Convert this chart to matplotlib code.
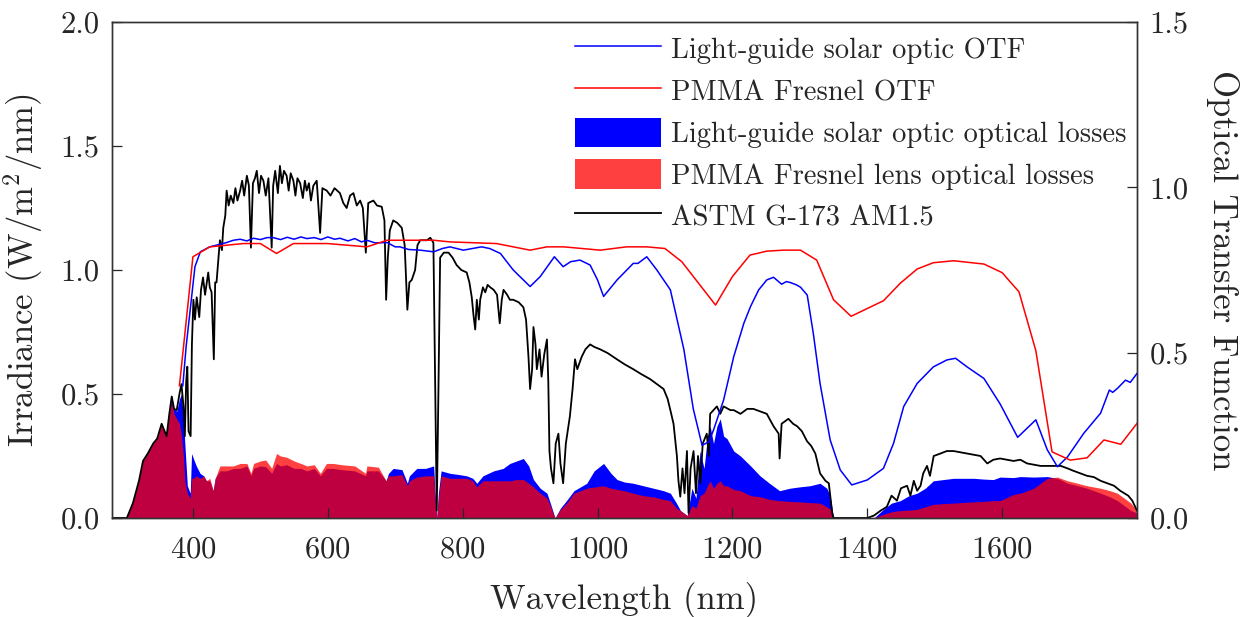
import matplotlib
matplotlib.use("Agg")
import matplotlib.pyplot as plt
from matplotlib.lines import Line2D
from matplotlib.patches import Patch

plt.rcParams['font.family'] = ['cmr10', 'DejaVu Serif']
plt.rcParams['mathtext.fontset'] = 'cm'
plt.rcParams['axes.unicode_minus'] = False
plt.rcParams['axes.formatter.use_mathtext'] = True

# --- ASTM G-173 AM1.5 spectrum (W/m^2/nm) ---
astm_nm = [280, 295, 302, 311, 320, 326, 333, 341, 347, 353.6, 358, 361, 365, 368.6, 372, 376, 380, 383,
           386, 388, 390, 391.7, 393.5, 396.6, 398.5, 400.7, 403, 405.6, 409.4, 412, 415, 418, 422.7, 425,
           427.7, 431, 433, 435, 438, 440, 443, 445, 448, 450, 453, 456, 460, 463, 466, 470, 473, 476, 480,
           483, 486, 489, 492, 494.7, 498, 501, 504.5, 508, 512, 516.8, 519, 522, 526, 529, 532, 535, 539,
           542, 545, 549, 552, 555, 559, 563, 566, 568.7, 572, 575, 578.6, 583.6, 588.6, 592, 598.5, 604,
           610, 618, 623, 628, 633, 638, 643, 648, 652, 656.4, 660, 667.6, 673, 680, 684, 686.5, 689, 692,
           697, 703, 709.7, 714, 718, 721, 724.5, 729.5, 733, 737, 742, 747, 752, 756.6, 759, 761.6, 764,
           766.6, 772, 779, 785, 791, 798, 806, 810, 813.5, 816, 818.6, 821, 824, 826, 830, 833.5, 837, 841,
           846, 851, 855, 858, 860.6, 866, 870, 875, 883, 890, 894, 897.6, 900, 903, 905, 908, 910, 914, 917,
           921, 925, 927, 928.7, 931, 934.6, 938, 942, 945, 949, 953, 959, 963, 966.6, 970, 976.5, 982, 989,
           995, 1004, 1015, 1028.7, 1040, 1053, 1065, 1078, 1088, 1098, 1104, 1108, 1112.7, 1117.7, 1120,
           1122.7, 1126, 1129, 1132.6, 1135, 1138, 1142.4, 1146, 1149, 1152.4, 1156, 1162, 1165, 1167, 1172,
           1177, 1182, 1187, 1197, 1202, 1212, 1222, 1231, 1241, 1251, 1261, 1268.6, 1270, 1273, 1283, 1290,
           1296, 1303, 1310.6, 1317, 1323, 1330, 1338, 1343, 1348, 1350, 1400, 1410, 1420, 1429, 1436, 1444,
           1450, 1459, 1464, 1469, 1474, 1479, 1483, 1488.6, 1493, 1498.5, 1508.5, 1518, 1528, 1538, 1548,
           1558, 1568, 1578, 1587, 1597, 1607, 1617, 1627, 1637, 1647, 1657, 1667, 1677, 1687, 1697, 1706,
           1716, 1726, 1736, 1746, 1756, 1766, 1775, 1781, 1787, 1793, 1800]
astm_irr = [0, 0, 0.0, 0.06, 0.15, 0.23, 0.26, 0.30, 0.32, 0.38, 0.35, 0.33, 0.42, 0.49, 0.44, 0.435, 0.50, 0.54,
            0.45, 0.33, 0.55, 0.61, 0.35, 0.33, 0.70, 0.88, 0.80, 0.89, 0.81, 0.92, 0.97, 0.90, 0.99, 0.93,
            0.91, 0.64, 0.95, 0.95, 1.05, 1.12, 1.08, 1.17, 1.22, 1.32, 1.26, 1.30, 1.27, 1.33, 1.28, 1.32, 1.36,
            1.30, 1.38, 1.34, 1.09, 1.35, 1.37, 1.40, 1.31, 1.38, 1.36, 1.30, 1.37, 1.09, 1.34, 1.40, 1.31,
            1.42, 1.35, 1.40, 1.38, 1.32, 1.39, 1.36, 1.30, 1.37, 1.35, 1.29, 1.36, 1.32, 1.35, 1.28, 1.34,
            1.36, 1.15, 1.33, 1.32, 1.30, 1.33, 1.31, 1.27, 1.25, 1.30, 1.31, 1.26, 1.28, 1.25, 1.07, 1.27,
            1.28, 1.26, 1.255, 1.20, 0.88, 1.05, 1.16, 1.20, 1.19, 1.17, 1.10, 0.84, 0.95, 0.96, 1.00, 1.10,
            1.12, 1.12, 1.12, 1.13, 1.11, 0.60, 0.03, 0.50, 1.05, 1.07, 1.07, 1.05, 1.02, 1.00, 0.99, 0.95,
            0.89, 0.82, 0.76, 0.88, 0.80, 0.88, 0.93, 0.91, 0.94, 0.93, 0.92, 0.90, 0.785, 0.88, 0.92, 0.90,
            0.88, 0.88, 0.87, 0.85, 0.80, 0.65, 0.52, 0.60, 0.77, 0.70, 0.60, 0.68, 0.57, 0.66, 0.72, 0.55,
            0.27, 0.20, 0.14, 0.30, 0.34, 0.22, 0.14, 0.30, 0.41, 0.52, 0.64, 0.60, 0.65, 0.68, 0.70, 0.69,
            0.68, 0.665, 0.64, 0.62, 0.60, 0.58, 0.56, 0.54, 0.52, 0.48, 0.435, 0.38, 0.25, 0.15, 0.086, 0.20,
            0.10, 0.27, 0.02, 0.20, 0.27, 0.10, 0.25, 0.14, 0.30, 0.34, 0.25, 0.42, 0.435, 0.45, 0.42, 0.45,
            0.435, 0.435, 0.42, 0.44, 0.44, 0.43, 0.42, 0.37, 0.34, 0.24, 0.38, 0.40, 0.38, 0.37, 0.35, 0.31,
            0.29, 0.26, 0.18, 0.15, 0.14, 0.02, 0, 0, 0.01, 0.03, 0.045, 0.09, 0.07, 0.12, 0.13, 0.09, 0.15,
            0.11, 0.13, 0.18, 0.21, 0.17, 0.25, 0.26, 0.27, 0.27, 0.265, 0.26, 0.255, 0.25, 0.22, 0.235, 0.24,
            0.235, 0.23, 0.235, 0.22, 0.215, 0.21, 0.21, 0.21, 0.21, 0.20, 0.19, 0.18, 0.17, 0.165, 0.15,
            0.14, 0.13, 0.11, 0.10, 0.09, 0.07, 0.03]

# --- optical losses (W/m^2/nm) ---
loss_nm = [280, 302, 311, 320, 326, 333, 341, 347, 353.6, 358, 361, 365, 368.6, 372, 376, 380, 383, 386, 388,
           391.7, 396, 398, 400.7, 405, 410.6, 416, 420, 425, 430, 433, 440, 450, 460, 470, 480, 486, 490, 500,
           508, 516.8, 524, 530, 539, 550, 560, 569, 580, 589, 598, 608, 620, 640, 656, 658, 675, 686.5, 690,
           697, 710, 718, 721, 732, 745, 757, 759, 761.6, 764, 768, 781.5, 795, 806, 815, 821, 830, 846, 860,
           870, 880, 890, 898, 905, 915, 925, 930, 937, 945, 954, 965, 984, 995, 1009, 1020, 1029, 1040, 1053,
           1068, 1083, 1098, 1108, 1117, 1123, 1133, 1140, 1146, 1152, 1158, 1163, 1167, 1172, 1177, 1182,
           1187, 1192, 1202, 1212, 1227, 1241, 1255, 1270, 1285, 1301, 1315, 1330, 1340, 1345, 1350, 1410,
           1424, 1436, 1449, 1462, 1474, 1486, 1498, 1513, 1528, 1543, 1558, 1572, 1587, 1597, 1617, 1627,
           1647, 1667, 1682, 1697, 1712, 1726, 1746, 1760, 1771, 1781, 1791, 1800]
lgso_loss = [0, 0, 0.06, 0.15, 0.23, 0.26, 0.30, 0.32, 0.38, 0.35, 0.33, 0.42, 0.49, 0.44, 0.43, 0.48, 0.50,
             0.40, 0.30, 0.13, 0.10, 0.26, 0.24, 0.21, 0.18, 0.17, 0.15, 0.15, 0.11, 0.16, 0.19, 0.19, 0.20,
             0.20, 0.21, 0.17, 0.20, 0.21, 0.207, 0.18, 0.22, 0.21, 0.215, 0.20, 0.20, 0.19, 0.20, 0.17, 0.20,
             0.20, 0.195, 0.19, 0.17, 0.19, 0.19, 0.15, 0.18, 0.20, 0.195, 0.14, 0.17, 0.20, 0.20, 0.21, 0.10,
             0.0, 0.10, 0.19, 0.18, 0.175, 0.17, 0.16, 0.14, 0.17, 0.19, 0.20, 0.22, 0.23, 0.24, 0.21, 0.155,
             0.12, 0.10, 0.06, 0.0, 0.04, 0.07, 0.11, 0.14, 0.19, 0.22, 0.18, 0.155, 0.145, 0.14, 0.13, 0.12,
             0.11, 0.10, 0.06, 0.03, 0.01, 0.12, 0.08, 0.27, 0.20, 0.33, 0.37, 0.30, 0.37, 0.40, 0.33, 0.32,
             0.27, 0.25, 0.21, 0.17, 0.14, 0.11, 0.12, 0.126, 0.13, 0.14, 0.12, 0.09, 0, 0, 0.035, 0.06, 0.07,
             0.09, 0.10, 0.12, 0.15, 0.155, 0.16, 0.16, 0.16, 0.157, 0.155, 0.165, 0.163, 0.167, 0.165, 0.167,
             0.16, 0.14, 0.13, 0.12, 0.10, 0.085, 0.07, 0.05, 0.03, 0.02]
pmma_loss = [0, 0, 0.06, 0.15, 0.23, 0.26, 0.30, 0.32, 0.38, 0.35, 0.33, 0.42, 0.47, 0.42, 0.40, 0.38, 0.33,
             0.25, 0.15, 0.10, 0.08, 0.16, 0.16, 0.17, 0.16, 0.17, 0.15, 0.16, 0.11, 0.16, 0.21, 0.21, 0.21,
             0.22, 0.22, 0.18, 0.22, 0.23, 0.234, 0.20, 0.26, 0.25, 0.245, 0.23, 0.22, 0.21, 0.215, 0.18,
             0.22, 0.22, 0.215, 0.21, 0.18, 0.21, 0.205, 0.15, 0.17, 0.17, 0.175, 0.13, 0.15, 0.165, 0.17,
             0.17, 0.08, 0.0, 0.08, 0.17, 0.16, 0.16, 0.16, 0.15, 0.125, 0.15, 0.15, 0.15, 0.15, 0.155, 0.155,
             0.14, 0.125, 0.10, 0.08, 0.05, 0.0, 0.035, 0.06, 0.10, 0.12, 0.125, 0.13, 0.12, 0.115, 0.11, 0.10,
             0.09, 0.085, 0.075, 0.07, 0.04, 0.03, 0.01, 0.05, 0.04, 0.09, 0.10, 0.13, 0.15, 0.12, 0.14, 0.15,
             0.13, 0.13, 0.115, 0.11, 0.09, 0.086, 0.075, 0.07, 0.067, 0.065, 0.062, 0.06, 0.045, 0.035, 0, 0,
             0.015, 0.025, 0.03, 0.032, 0.035, 0.045, 0.055, 0.058, 0.06, 0.063, 0.065, 0.067, 0.07, 0.07,
             0.095, 0.10, 0.12, 0.16, 0.165, 0.15, 0.14, 0.13, 0.12, 0.11, 0.10, 0.08, 0.06, 0.03]

# --- optical transfer functions ---
lgso_otf_nm = [385, 390, 396, 403, 411, 425, 450, 460, 470, 480, 490, 500, 510, 519, 530, 540, 550, 560, 569,
               580, 590, 600, 610, 618, 630, 640, 650, 658, 670, 688, 700, 707, 720, 737, 757, 770, 781, 801,
               828, 840, 856, 875, 900, 915, 936, 949, 960, 974, 989, 1000, 1009, 1029, 1053, 1060, 1073, 1088,
               1108, 1128, 1142, 1155, 1165, 1172, 1187, 1202, 1217, 1227, 1239, 1251, 1261, 1273, 1280, 1286,
               1295, 1301, 1311, 1320, 1330, 1345, 1360, 1377, 1400, 1424, 1439, 1454, 1474, 1498, 1518, 1531,
               1548, 1573, 1597, 1623, 1650, 1667, 1682, 1697, 1721, 1746, 1759, 1764, 1771, 1783, 1790, 1800]
lgso_otf = [0.40, 0.52, 0.63, 0.76, 0.805, 0.82, 0.833, 0.840, 0.843, 0.838, 0.846, 0.842, 0.848, 0.848, 0.842,
            0.849, 0.843, 0.850, 0.845, 0.848, 0.842, 0.850, 0.843, 0.846, 0.838, 0.845, 0.835, 0.840, 0.832,
            0.833, 0.82, 0.82, 0.812, 0.81, 0.805, 0.815, 0.82, 0.81, 0.82, 0.815, 0.80, 0.75, 0.70, 0.73, 0.79,
            0.76, 0.775, 0.78, 0.765, 0.72, 0.67, 0.72, 0.77, 0.77, 0.79, 0.75, 0.69, 0.51, 0.33, 0.22, 0.23,
            0.266, 0.357, 0.488, 0.589, 0.64, 0.69, 0.72, 0.728, 0.707, 0.715, 0.712, 0.705, 0.698, 0.674,
            0.558, 0.407, 0.236, 0.145, 0.10, 0.115, 0.15, 0.226, 0.337, 0.407, 0.457, 0.478, 0.483, 0.457,
            0.422, 0.345, 0.244, 0.297, 0.206, 0.155, 0.185, 0.256, 0.317, 0.387, 0.380, 0.392, 0.417, 0.410,
            0.437]
pmma_otf_nm = [380, 400, 425, 475, 500, 524, 549, 600, 658, 688, 757, 781, 850, 900, 925, 950, 1004, 1043, 1073,
               1100, 1125, 1175, 1200, 1226, 1251, 1276, 1301, 1325, 1350, 1376, 1424, 1449, 1474, 1498, 1528,
               1573, 1600, 1625, 1650, 1674, 1701, 1726, 1751, 1776, 1800]
pmma_otf = [0.40, 0.79, 0.82, 0.83, 0.83, 0.80, 0.83, 0.83, 0.82, 0.84, 0.84, 0.835, 0.83, 0.81, 0.82, 0.82,
            0.81, 0.82, 0.82, 0.815, 0.775, 0.644, 0.73, 0.795, 0.807, 0.81, 0.81, 0.78, 0.66, 0.61, 0.657,
            0.71, 0.753, 0.772, 0.778, 0.768, 0.742, 0.684, 0.506, 0.20, 0.175, 0.182, 0.236, 0.223, 0.286]

xticks = [400, 600, 800, 1000, 1200, 1400, 1600]

text_col = '#262626'

fig = plt.figure(figsize=(12.51, 6.17), dpi=100)
ax = fig.add_axes([112 / 1251, 99 / 617, 1025 / 1251, 496 / 617])
ax2 = ax.twinx()

# losses: solid blue underneath, translucent red on top
ax.fill_between(loss_nm, 0, lgso_loss, color='#0000ff', linewidth=0)
ax.fill_between(loss_nm, 0, pmma_loss, color='#ff0000', alpha=0.75, linewidth=0)
ax.plot(astm_nm, astm_irr, color='black', lw=1.3)

ax2.plot(lgso_otf_nm, lgso_otf, color='#0000ff', lw=1.1)
ax2.plot(pmma_otf_nm, pmma_otf, color='#ff0000', lw=1.1)

ax.set_xlim(280, 1800)
ax.set_ylim(0, 2.0)
ax2.set_ylim(0, 1.5)
ax.set_xticks(xticks)
ax.set_yticks([0, 0.5, 1.0, 1.5, 2.0])
ax2.set_yticks([0, 0.5, 1.0, 1.5])
ax.yaxis.set_major_formatter(plt.FormatStrFormatter('%.1f'))
ax2.yaxis.set_major_formatter(plt.FormatStrFormatter('%.1f'))

for a in (ax, ax2):
    a.tick_params(direction='in', length=7, width=0.9, labelsize=22, colors=text_col)
    for s in a.spines.values():
        s.set_color('#333333')
        s.set_linewidth(1.0)
ax.tick_params(axis='x', pad=13)
ax.tick_params(axis='y', pad=9)
ax2.tick_params(axis='y', pad=9)

ax.set_xlabel('Wavelength (nm)', fontsize=25, color=text_col, labelpad=13)
ax.set_ylabel('Irradiance (W/m$^2$/nm)', fontsize=25, color=text_col, labelpad=11)
ax2.set_ylabel('Optical Transfer Function', fontsize=25, color=text_col, rotation=270, labelpad=36)

handles = [
    Line2D([], [], color='#0000ff', lw=1.1),
    Line2D([], [], color='#ff0000', lw=1.1),
    Patch(facecolor='#0000ff', edgecolor='none'),
    Patch(facecolor='#ff0000', alpha=0.75, edgecolor='none'),
    Line2D([], [], color='black', lw=1.3),
]
labels = ['Light-guide solar optic OTF', 'PMMA Fresnel OTF',
          'Light-guide solar optic optical losses', 'PMMA Fresnel lens optical losses',
          'ASTM G-173 AM1.5']
leg = ax2.legend(handles, labels, loc='upper right', bbox_to_anchor=(0.997, 0.99), frameon=False,
                 fontsize=20.6, handlelength=3.0, handleheight=1.2, labelspacing=0.4,
                 handletextpad=0.35, borderaxespad=0.2, borderpad=0.05)
for t in leg.get_texts():
    t.set_color(text_col)

fig.savefig('out.png', dpi=100)
